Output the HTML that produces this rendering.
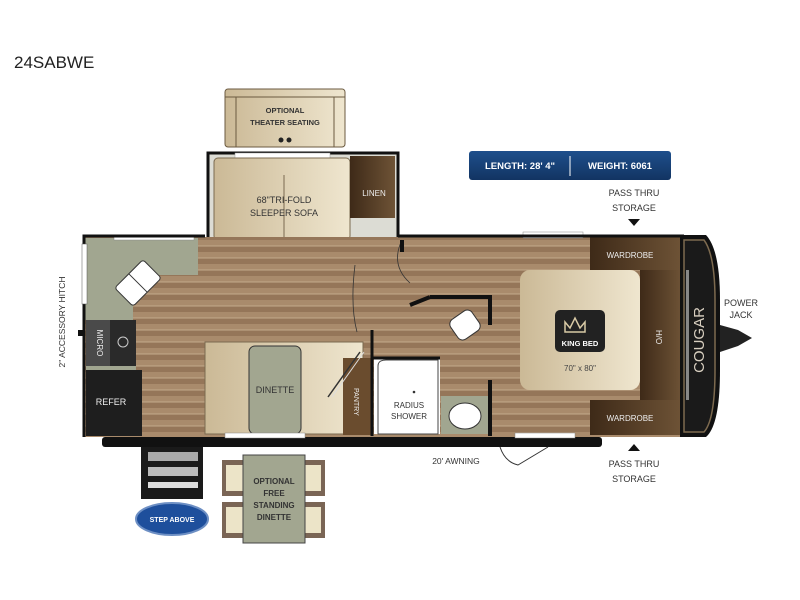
<!DOCTYPE html>
<html><head><meta charset="utf-8"><style>
html,body{margin:0;padding:0;background:#fff;}
svg{display:block;font-family:"Liberation Sans",sans-serif;}
</style></head><body>
<svg width="800" height="600" viewBox="0 0 800 600" xmlns="http://www.w3.org/2000/svg">
<defs>
<pattern id="wood" width="40" height="12" patternUnits="userSpaceOnUse">
<rect width="40" height="12" fill="#957659"/>
<rect y="0" width="40" height="6" fill="#a98b6c"/>
<rect y="5.5" width="40" height="1" fill="#c4ab8c"/>
</pattern>
<linearGradient id="beige" x1="0" x2="1"><stop offset="0" stop-color="#cbb996"/><stop offset="1" stop-color="#efe6cf"/></linearGradient>
<linearGradient id="brown" x1="0" x2="1"><stop offset="0" stop-color="#3e2a18"/><stop offset="1" stop-color="#6e5336"/></linearGradient>
<linearGradient id="badge" x1="0" x2="0" y1="0" y2="1"><stop offset="0" stop-color="#1e4f8c"/><stop offset="1" stop-color="#123462"/></linearGradient>
</defs>
<text x="14" y="68" font-size="17" fill="#222">24SABWE</text>

<rect x="225" y="89" width="120" height="58" rx="3" fill="url(#beige)" stroke="#6b5a40" stroke-width="1"/>
<line x1="225" y1="97" x2="345" y2="97" stroke="#6b5a40"/>
<line x1="236" y1="97" x2="236" y2="147" stroke="#6b5a40"/>
<line x1="334" y1="97" x2="334" y2="147" stroke="#6b5a40"/>
<text x="285" y="113" font-size="7.5" font-weight="bold" text-anchor="middle" fill="#333">OPTIONAL</text>
<text x="285" y="125" font-size="7.5" font-weight="bold" text-anchor="middle" fill="#333">THEATER SEATING</text>
<circle cx="281" cy="140" r="2.5" fill="#222"/><circle cx="289" cy="140" r="2.5" fill="#222"/>

<rect x="208" y="153" width="190" height="92" fill="#dcdcd4" stroke="#111" stroke-width="3"/>
<rect x="235" y="153" width="95" height="5" fill="#fff" stroke="#999" stroke-width="0.5"/>
<rect x="214" y="158" width="136" height="82" rx="4" fill="url(#beige)" stroke="#7a6a50"/>
<line x1="284" y1="175" x2="284" y2="240" stroke="#7a6a50"/>
<rect x="350" y="156" width="45" height="62" fill="url(#brown)"/>
<text x="374" y="196" font-size="8" text-anchor="middle" fill="#eee">LINEN</text>
<text x="284" y="203" font-size="9" text-anchor="middle" fill="#333">68"TRI-FOLD</text>
<text x="284" y="216" font-size="9" text-anchor="middle" fill="#333">SLEEPER SOFA</text>

<rect x="84" y="237" width="600" height="200" fill="url(#wood)"/>
<path d="M85 238 H198 V275 H150 L133 305 V320 H85 Z" fill="#a1a690"/>
<rect x="114" y="235" width="80" height="5" fill="#fff" stroke="#888" stroke-width="0.5"/>
<g transform="rotate(-45 138 283)"><rect x="118" y="270" width="40" height="26" rx="3" fill="#fff" stroke="#333"/><line x1="138" y1="270" x2="138" y2="296" stroke="#333"/></g>
<rect x="86" y="320" width="50" height="46" fill="#4a4a4a"/>
<rect x="110" y="320" width="26" height="46" fill="#2a2a2a"/>
<circle cx="123" cy="342" r="5" fill="none" stroke="#ccc" stroke-width="1"/>
<text x="97" y="343" font-size="8" fill="#eee" text-anchor="middle" transform="rotate(90 97 343)">MICRO</text>
<rect x="86" y="366" width="50" height="4" fill="#a1a690"/>
<rect x="86" y="370" width="56" height="66" fill="#1e1e1e"/>
<text x="111" y="405" font-size="9" fill="#eee" text-anchor="middle">REFER</text>

<rect x="205" y="342" width="158" height="92" fill="url(#beige)" stroke="#7a6a50"/>
<rect x="249" y="346" width="52" height="88" rx="6" fill="#a2a690" stroke="#333"/>
<text x="275" y="393" font-size="9" text-anchor="middle" fill="#333">DINETTE</text>
<rect x="343" y="358" width="28" height="77" fill="#6a4c2e"/>
<text x="354" y="388" font-size="7" fill="#eee" transform="rotate(90 354 388)">PANTRY</text>
<line x1="328" y1="397" x2="360" y2="352" stroke="#333" stroke-width="1.5"/>
<line x1="332" y1="397" x2="364" y2="352" stroke="#ddd" stroke-width="1"/>
<rect x="374" y="358" width="66" height="76" fill="#fff"/>
<path d="M378 434 V366 Q378 360 386 360 H438 V434 Z" fill="#fff" stroke="#444"/>
<circle cx="414" cy="392" r="1.3" fill="#333"/>
<text x="409" y="408" font-size="8" text-anchor="middle" fill="#333">RADIUS</text>
<text x="409" y="419" font-size="8" text-anchor="middle" fill="#333">SHOWER</text>
<rect x="441" y="396" width="47" height="38" fill="#a1a690"/>
<ellipse cx="465" cy="416" rx="16" ry="13" fill="#fff" stroke="#333"/>
<path d="M372 330 V436 M373 358 H440" stroke="#111" stroke-width="3" fill="none"/>
<path d="M430 297 H490 V325 M490 380 V436" stroke="#111" stroke-width="4" fill="none"/>
<path d="M430 297 L410 305" stroke="#111" stroke-width="4"/>
<path d="M357 332 Q350 305 355 265 M402 240 Q390 265 410 283" stroke="#333" stroke-width="0.8" fill="none"/>
<path d="M402 240 V252" stroke="#111" stroke-width="4"/>
<g transform="rotate(-35 465 325)"><rect x="452" y="313" width="26" height="24" rx="6" fill="#fff" stroke="#333"/></g>

<rect x="590" y="237" width="92" height="33" fill="url(#brown)"/>
<text x="630" y="258" font-size="8" text-anchor="middle" fill="#eee">WARDROBE</text>
<rect x="590" y="400" width="92" height="35" fill="url(#brown)"/>
<text x="630" y="421" font-size="8" text-anchor="middle" fill="#eee">WARDROBE</text>
<rect x="640" y="270" width="42" height="130" fill="url(#brown)"/>
<text x="656" y="330" font-size="8" fill="#eee" transform="rotate(90 656 330)">H/O</text>
<rect x="520" y="270" width="120" height="120" rx="10" fill="url(#beige)"/>
<rect x="555" y="310" width="50" height="42" rx="5" fill="#222"/>
<path d="M565 322 L570 328 L575 318 L580 328 L585 322 V332 H565 Z" fill="none" stroke="#d8c9a5" stroke-width="1.5"/>
<text x="580" y="346" font-size="7.5" font-weight="bold" text-anchor="middle" fill="#fff">KING BED</text>
<text x="580" y="371" font-size="8" text-anchor="middle" fill="#444">70" x 80"</text>
<rect x="523" y="232" width="60" height="6" fill="#fff" stroke="#888" stroke-width="0.5"/>

<path d="M205 236 H84 V437 M398 236 H684" stroke="#111" stroke-width="3" fill="none"/>
<rect x="82" y="244" width="5" height="60" fill="#fff" stroke="#555" stroke-width="0.5"/>
<path d="M680 235 H706 Q720 250 720 300 V370 Q720 425 706 437 H680 Z" fill="#111"/>
<path d="M684 240 H704 Q715 255 715 300 V370 Q715 420 704 432 H684 Z" fill="#1a1a1a" stroke="#7d6a4f" stroke-width="1.5"/>
<rect x="686" y="270" width="3" height="130" fill="#888"/>
<text x="699" y="340" font-size="15" fill="#d8cfc0" transform="rotate(-90 699 340)" text-anchor="middle" dy="5">COUGAR</text>
<path d="M720 325 L738 330 L752 338 L738 346 L720 352 Z" fill="#222"/>
<rect x="78" y="330" width="6" height="6" fill="#111"/>

<rect x="102" y="437" width="500" height="10" rx="3" fill="#111"/>
<rect x="225" y="433" width="80" height="5" fill="#fff" stroke="#888" stroke-width="0.5"/>
<rect x="515" y="433" width="60" height="5" fill="#fff" stroke="#888" stroke-width="0.5"/>
<path d="M500 447 Q505 462 518 465 L548 447" stroke="#333" fill="none"/>
<text x="456" y="464" font-size="8.5" text-anchor="middle" fill="#333">20' AWNING</text>

<rect x="141" y="447" width="62" height="52" fill="#1a1a1a"/>
<rect x="148" y="452" width="50" height="9" fill="#aaa"/>
<rect x="148" y="467" width="50" height="9" fill="#bbb"/>
<rect x="148" y="482" width="50" height="6" fill="#ddd"/>
<ellipse cx="172" cy="519" rx="36" ry="16" fill="#1e4f9c" stroke="#6d8fc4" stroke-width="2"/>
<text x="172" y="522" font-size="7" font-weight="bold" text-anchor="middle" fill="#fff">STEP ABOVE</text>

<rect x="222" y="460" width="103" height="36" fill="#7a6555"/>
<rect x="222" y="502" width="103" height="36" fill="#7a6555"/>
<rect x="226" y="465" width="20" height="26" fill="#ece4c8"/>
<rect x="301" y="465" width="20" height="26" fill="#ece4c8"/>
<rect x="226" y="507" width="20" height="26" fill="#ece4c8"/>
<rect x="301" y="507" width="20" height="26" fill="#ece4c8"/>
<rect x="243" y="455" width="62" height="88" fill="#a2a690" stroke="#444"/>
<text x="274" y="484" font-size="8" font-weight="bold" text-anchor="middle" fill="#333">OPTIONAL</text>
<text x="274" y="496" font-size="8" font-weight="bold" text-anchor="middle" fill="#333">FREE</text>
<text x="274" y="508" font-size="8" font-weight="bold" text-anchor="middle" fill="#333">STANDING</text>
<text x="274" y="520" font-size="8" font-weight="bold" text-anchor="middle" fill="#333">DINETTE</text>

<rect x="469" y="151" width="202" height="29" rx="3" fill="url(#badge)"/>
<text x="520" y="169" font-size="9.5" font-weight="bold" text-anchor="middle" fill="#fff">LENGTH: 28' 4"</text>
<line x1="570" y1="156" x2="570" y2="176" stroke="#fff"/>
<text x="620" y="169" font-size="9.5" font-weight="bold" text-anchor="middle" fill="#fff">WEIGHT: 6061</text>

<text x="634" y="196" font-size="9" text-anchor="middle" fill="#333">PASS THRU</text>
<text x="634" y="211" font-size="9" text-anchor="middle" fill="#333">STORAGE</text>
<path d="M628 219 H640 L634 226 Z" fill="#111"/>
<path d="M628 451 H640 L634 444 Z" fill="#111"/>
<text x="634" y="467" font-size="9" text-anchor="middle" fill="#333">PASS THRU</text>
<text x="634" y="482" font-size="9" text-anchor="middle" fill="#333">STORAGE</text>
<text x="741" y="306" font-size="9" text-anchor="middle" fill="#333">POWER</text>
<text x="741" y="318" font-size="9" text-anchor="middle" fill="#333">JACK</text>
<text x="65" y="322" font-size="8.5" text-anchor="middle" fill="#333" transform="rotate(-90 65 322)">2" ACCESSORY HITCH</text>
</svg>
</body></html>
